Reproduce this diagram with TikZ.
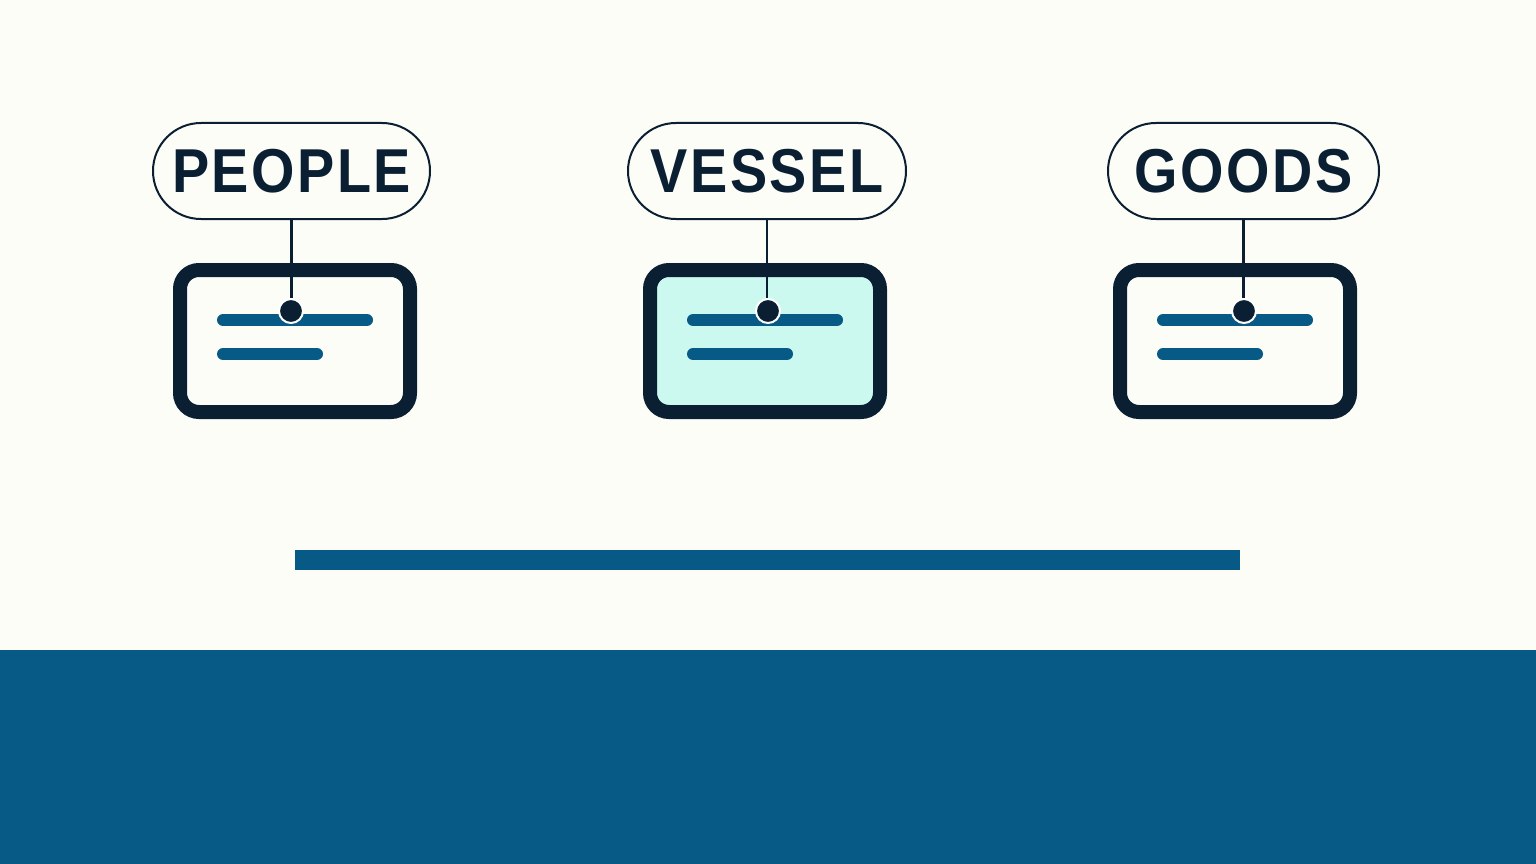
\documentclass[tikz,border=0pt]{standalone}
\usepackage{fontspec}
\setmainfont{Liberation Sans}
\newfontfamily\labelfont[FakeStretch=0.9,LetterSpace=4]{Liberation Sans}
\usetikzlibrary{shapes.misc}
\definecolor{bgc}{HTML}{FDFDF8}
\definecolor{navy}{HTML}{0B1F33}
\definecolor{sea}{HTML}{075A85}
\definecolor{mint}{HTML}{CCF9EF}
\tikzset{
  pill/.style={rounded rectangle, draw=navy, line width=2pt, fill=bgc,
    minimum height=96pt, inner sep=0pt, text=navy,
    font=\labelfont\bfseries\fontsize{62}{62}\selectfont},
  card/.style={rectangle, draw=navy, line width=14pt, rounded corners=19pt,
    minimum width=230pt, minimum height=142pt, inner sep=0pt},
  textline/.style={draw=sea, line width=12pt, line cap=round},
  pin/.style={circle, fill=navy, draw=white, line width=2pt, minimum size=24pt, inner sep=0pt},
  link/.style={draw=navy, line width=2.5pt},
}
\begin{document}
\begin{tikzpicture}[x=1pt,y=-1pt]
\fill[bgc] (0,0) rectangle (1536,864);
\useasboundingbox (0,0) rectangle (1536,864);
\fill[sea] (0,650) rectangle (1536,864);
\fill[sea] (295,550) rectangle (1240,570);
% cards
\node[card, fill=bgc] (c1) at (295,341) {};
\node[card, fill=mint] (c2) at (765,341) {};
\node[card, fill=bgc] (c3) at (1235,341) {};
% text lines
\foreach \c/\x in {c1/173, c2/643, c3/1113}{
  \draw[textline] (\x+50,320) -- (\x+194,320);
  \draw[textline] (\x+50,354) -- (\x+144,354);
}
% pills
\node[pill, minimum width=277pt] (p1) at (291.5,171) {PEOPLE};
\node[pill, minimum width=278pt] (p2) at (767,171) {VESSEL};
\node[pill, minimum width=271pt] (p3) at (1243.5,171) {GOODS};
% pins
\node[pin] (d1) at (291,311) {};
\node[pin] (d2) at (768,311) {};
\node[pin] (d3) at (1244,311) {};
\draw[link] (p1.south) -- (p1.south |- d1.north);
\draw[link] (p2.south) -- (p2.south |- d2.north);
\draw[link] (p3.south) -- (p3.south |- d3.north);
\end{tikzpicture}
\end{document}
